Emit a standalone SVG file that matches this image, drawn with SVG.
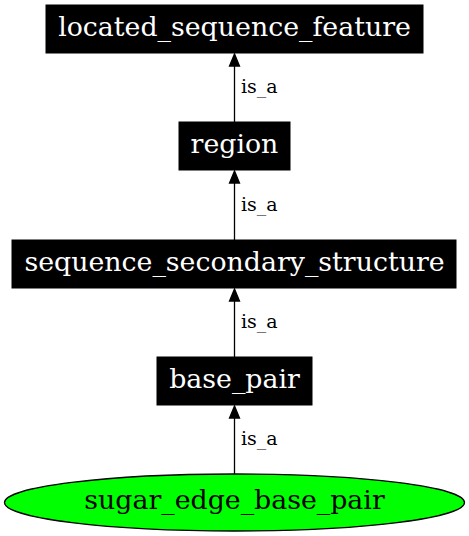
<svg xmlns="http://www.w3.org/2000/svg" width="469" height="536" viewBox="0 0 469 536">
<defs>
<style>
.box{fill:#000;stroke:#000;stroke-width:1}
.nt{font-family:"DejaVu Serif",serif;font-size:26.8px;fill:#fff;text-anchor:middle}
.et{font-family:"DejaVu Serif",serif;font-size:19px;fill:#000}
.edge{stroke:#000;stroke-width:1.3;fill:none}
.ah{fill:#000;stroke:#000;stroke-width:1.3}
</style>
</defs>
<rect width="469" height="536" fill="#fff"/>
<g id="connectors">
<g id="e1"><line class="edge" x1="234.5" y1="122" x2="234.5" y2="66"/><polygon class="ah" points="234.5,54 229.5,66 239.5,66"/><text class="et" x="241" y="93">is_a</text></g>
<g id="e2"><line class="edge" x1="234.5" y1="240" x2="234.5" y2="183"/><polygon class="ah" points="234.5,171 229.5,183 239.5,183"/><text class="et" x="241" y="211">is_a</text></g>
<g id="e3"><line class="edge" x1="234.5" y1="357" x2="234.5" y2="301"/><polygon class="ah" points="234.5,289 229.5,301 239.5,301"/><text class="et" x="241" y="328">is_a</text></g>
<g id="e4"><line class="edge" x1="234.5" y1="474" x2="234.5" y2="418"/><polygon class="ah" points="234.5,406 229.5,418 239.5,418"/><text class="et" x="241" y="445">is_a</text></g>
</g>
<g id="located_sequence_feature"><rect class="box" x="46" y="5" width="377" height="48"/><text class="nt" x="234.5" y="36">located_sequence_feature</text></g>
<g id="region"><rect class="box" x="179" y="122" width="111" height="48"/><text class="nt" x="234.5" y="153">region</text></g>
<g id="sequence_secondary_structure"><rect class="box" x="12" y="240" width="444" height="48"/><text class="nt" x="234.5" y="271">sequence_secondary_structure</text></g>
<g id="base_pair"><rect class="box" x="157" y="357" width="155" height="48"/><text class="nt" x="234.5" y="388">base_pair</text></g>
<g id="sugar_edge_base_pair"><ellipse cx="234.5" cy="502.5" rx="230" ry="28.5" fill="#00ff00" stroke="#000" stroke-width="1.3"/><text class="nt" x="234.5" y="509" style="fill:#000">sugar_edge_base_pair</text></g>
</svg>
